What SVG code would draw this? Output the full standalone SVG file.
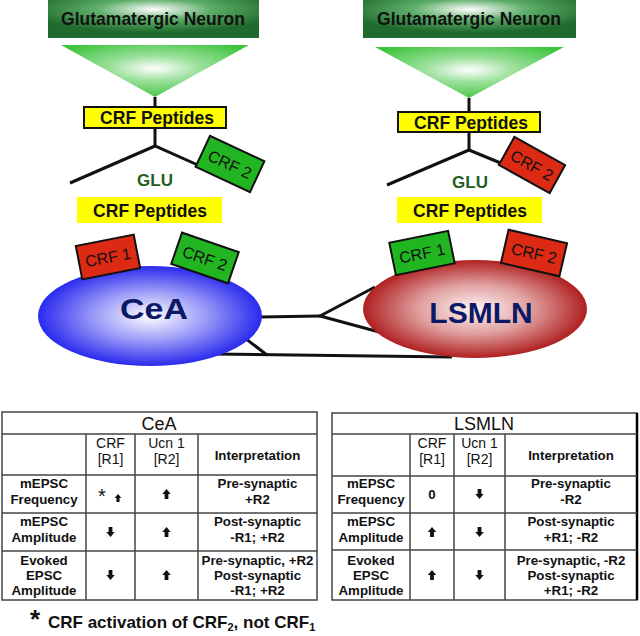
<svg xmlns="http://www.w3.org/2000/svg" width="640" height="636" viewBox="0 0 640 636">
<defs>
<radialGradient id="gHead" cx="0.5" cy="0.25" r="0.6">
<stop offset="0" stop-color="#ffffff"/><stop offset="0.45" stop-color="#5fae6a"/><stop offset="1" stop-color="#1f6b2d"/>
</radialGradient>
<radialGradient id="gTri" cx="0.5" cy="0.45" r="0.6">
<stop offset="0" stop-color="#ffffff"/><stop offset="0.4" stop-color="#9be09b"/><stop offset="1" stop-color="#3cc43c"/>
</radialGradient>
<radialGradient id="gCeA" cx="0.5" cy="0.5" r="0.5">
<stop offset="0" stop-color="#ffffff"/><stop offset="0.5" stop-color="#9a9af8"/><stop offset="1" stop-color="#2a2aee"/>
</radialGradient>
<radialGradient id="gLS" cx="0.5" cy="0.5" r="0.5">
<stop offset="0" stop-color="#fff4f4"/><stop offset="0.5" stop-color="#e0a0a0"/><stop offset="1" stop-color="#b02020"/>
</radialGradient>
<path id="up" d="M0,-5 L4.2,0 L1.9,0 L1.9,5 L-1.9,5 L-1.9,0 L-4.2,0 Z" fill="#111"/>
<path id="dn" d="M0,5 L4.2,0 L1.9,0 L1.9,-5 L-1.9,-5 L-1.9,0 L-4.2,0 Z" fill="#111"/>
</defs>
<style>
.hd{font-family:"Liberation Sans",Arial,sans-serif;font-weight:bold;font-size:17.5px;fill:#111;text-anchor:middle}
.pep{font-family:"Liberation Sans",Arial,sans-serif;font-weight:bold;font-size:17.5px;fill:#111;text-anchor:middle}
.glu{font-family:"Liberation Sans",Arial,sans-serif;font-weight:bold;font-size:17px;fill:#1f5f1f;text-anchor:middle}
.rec{font-family:"Liberation Sans",Arial,sans-serif;font-size:16px;fill:#111;text-anchor:middle}
.big{font-family:"Liberation Sans",Arial,sans-serif;font-weight:bold;font-size:30px;fill:#0c1a66;text-anchor:middle}
.th{font-family:"Liberation Sans",Arial,sans-serif;font-size:18px;fill:#111;text-anchor:middle}
.td{font-family:"Liberation Sans",Arial,sans-serif;font-weight:bold;font-size:13.3px;fill:#111;text-anchor:middle}
.ch{font-family:"Liberation Sans",Arial,sans-serif;font-size:14px;fill:#111;text-anchor:middle}
.fn{font-family:"Liberation Sans",Arial,sans-serif;font-weight:bold;font-size:17px;fill:#111}
.ln{stroke:#111;stroke-width:3;fill:none}
.grid{stroke:#444;stroke-width:1.5;fill:none}
.yb{fill:#ffff00;stroke:#111;stroke-width:2}
.gr{fill:#22b522;stroke:#111;stroke-width:2}
.rd{fill:#dd2a14;stroke:#111;stroke-width:2}
</style>

<g id="connectors">
<line class="ln" x1="155" y1="97" x2="155" y2="107"/>
<polyline class="ln" points="70,183 155,146 200,166"/>
<line class="ln" x1="155" y1="128" x2="155" y2="146"/>
<line class="ln" x1="469" y1="98" x2="469" y2="112"/>
<polyline class="ln" points="387,185 469,150 503,164"/>
<line class="ln" x1="469" y1="132" x2="469" y2="150"/>
<line class="ln" x1="260" y1="317" x2="320" y2="316"/>
<polyline class="ln" points="375,287 320,316 383,333"/>
<line class="ln" x1="213" y1="354" x2="452" y2="357"/>
<line class="ln" x1="241" y1="335" x2="267" y2="355"/>
</g>

<g id="neuronL">
<rect x="48" y="0" width="211" height="38" fill="url(#gHead)"/>
<text class="hd" x="153" y="25">Glutamatergic Neuron</text>
<polygon points="61,45 249,45 155,97" fill="url(#gTri)"/>
</g>
<g id="neuronR">
<rect x="363" y="0" width="213" height="38" fill="url(#gHead)"/>
<text class="hd" x="469" y="25">Glutamatergic Neuron</text>
<polygon points="375,47 564,47 469,98" fill="url(#gTri)"/>
</g>

<g id="pepL1"><rect class="yb" x="84" y="107" width="142" height="21"/><text class="pep" x="157" y="124">CRF Peptides</text></g>
<g id="pepR1"><rect class="yb" x="398" y="112" width="142" height="20"/><text class="pep" x="471" y="129">CRF Peptides</text></g>

<g id="crf2topL" transform="translate(230,164) rotate(25)"><rect class="gr" x="-30" y="-17" width="60" height="34"/><text class="rec" x="0" y="6">CRF 2</text></g>
<g id="crf2topR" transform="translate(532,165) rotate(29)"><rect class="rd" x="-29" y="-16" width="58" height="32"/><text class="rec" x="0" y="6">CRF 2</text></g>

<g id="gluL"><text class="glu" x="155" y="186">GLU</text></g>
<g id="gluR"><text class="glu" x="470" y="188">GLU</text></g>

<g id="pepL2"><rect x="77" y="197" width="145" height="26" fill="#ffff00"/><text class="pep" x="150" y="217">CRF Peptides</text></g>
<g id="pepR2"><rect x="397" y="197" width="145" height="26" fill="#ffff00"/><text class="pep" x="470" y="217">CRF Peptides</text></g>

<g id="CeA">
<ellipse cx="150" cy="316" rx="112" ry="50" fill="url(#gCeA)"/>
<text class="big" x="154" y="319" textLength="68" lengthAdjust="spacingAndGlyphs">CeA</text>
</g>
<g id="LSMLN">
<ellipse cx="475" cy="309" rx="112" ry="49" fill="url(#gLS)"/>
<text class="big" x="481" y="323">LSMLN</text>
</g>

<g id="crf1CeA" transform="translate(108,257) rotate(-11)"><rect class="rd" x="-29.5" y="-17" width="59" height="34"/><text class="rec" x="0" y="6">CRF 1</text></g>
<g id="crf2CeA" transform="translate(205,258) rotate(19)"><rect class="gr" x="-30" y="-16.5" width="60" height="33"/><text class="rec" x="0" y="6">CRF 2</text></g>
<g id="crf1LS" transform="translate(422,253) rotate(-11.5)"><rect class="gr" x="-30" y="-16.5" width="60" height="33"/><text class="rec" x="0" y="6">CRF 1</text></g>
<g id="crf2LS" transform="translate(534,253) rotate(13)"><rect class="rd" x="-30" y="-17" width="60" height="34"/><text class="rec" x="0" y="6">CRF 2</text></g>

<g id="tableCeA">
<rect class="grid" x="2" y="412" width="315" height="188"/>
<line class="grid" x1="2" y1="434" x2="317" y2="434"/>
<line class="grid" x1="2" y1="475" x2="317" y2="475"/>
<line class="grid" x1="2" y1="513" x2="317" y2="513"/>
<line class="grid" x1="2" y1="551" x2="317" y2="551"/>
<line class="grid" x1="86" y1="434" x2="86" y2="600"/>
<line class="grid" x1="135" y1="434" x2="135" y2="600"/>
<line class="grid" x1="198" y1="434" x2="198" y2="600"/>
<text class="th" x="159" y="430">CeA</text>
<text class="ch" x="110.5" y="448">CRF</text><text class="ch" x="110.5" y="464">[R1]</text>
<text class="ch" x="166.5" y="448">Ucn 1</text><text class="ch" x="166.5" y="464">[R2]</text>
<text class="td" x="257.5" y="460">Interpretation</text>
<text class="td" x="44" y="488">mEPSC</text><text class="td" x="44" y="504">Frequency</text>
<text class="td" x="44" y="526">mEPSC</text><text class="td" x="44" y="542">Amplitude</text>
<text class="td" x="44" y="565">Evoked</text><text class="td" x="44" y="580">EPSC</text><text class="td" x="44" y="595">Amplitude</text>
<text class="td" x="257.5" y="488">Pre-synaptic</text><text class="td" x="257.5" y="504">+R2</text>
<text class="td" x="257.5" y="526">Post-synaptic</text><text class="td" x="257.5" y="542">-R1; +R2</text>
<text class="td" x="257.5" y="565">Pre-synaptic, +R2</text><text class="td" x="257.5" y="580">Post-synaptic</text><text class="td" x="257.5" y="595">-R1; +R2</text>
<text x="102" y="503" font-family="Liberation Sans, Arial, sans-serif" font-size="20" fill="#111" text-anchor="middle">*</text>
<use href="#up" transform="translate(118,498) scale(0.8)"/>
<use href="#up" x="166.5" y="494"/>
<use href="#dn" x="110.5" y="532"/>
<use href="#up" x="166.5" y="532"/>
<use href="#dn" x="110.5" y="575"/>
<use href="#up" x="166.5" y="575"/>
</g>

<g id="tableLS">
<rect class="grid" x="332" y="413" width="305" height="187"/>
<line x1="637" y1="413" x2="637" y2="600" stroke="#000" stroke-width="2.5"/>
<line class="grid" x1="332" y1="434" x2="637" y2="434"/>
<line class="grid" x1="332" y1="476" x2="637" y2="476"/>
<line class="grid" x1="332" y1="513" x2="637" y2="513"/>
<line class="grid" x1="332" y1="550" x2="637" y2="550"/>
<line class="grid" x1="410" y1="434" x2="410" y2="600"/>
<line class="grid" x1="454" y1="434" x2="454" y2="600"/>
<line class="grid" x1="505" y1="434" x2="505" y2="600"/>
<text class="th" x="484" y="430">LSMLN</text>
<text class="ch" x="432" y="448">CRF</text><text class="ch" x="432" y="464">[R1]</text>
<text class="ch" x="479.5" y="448">Ucn 1</text><text class="ch" x="479.5" y="464">[R2]</text>
<text class="td" x="571" y="460">Interpretation</text>
<text class="td" x="371" y="488">mEPSC</text><text class="td" x="371" y="504">Frequency</text>
<text class="td" x="371" y="526">mEPSC</text><text class="td" x="371" y="542">Amplitude</text>
<text class="td" x="371" y="565">Evoked</text><text class="td" x="371" y="580">EPSC</text><text class="td" x="371" y="595">Amplitude</text>
<text class="td" x="571" y="488">Pre-synaptic</text><text class="td" x="571" y="504">-R2</text>
<text class="td" x="571" y="526">Post-synaptic</text><text class="td" x="571" y="542">+R1; -R2</text>
<text class="td" x="571" y="565">Pre-synaptic, -R2</text><text class="td" x="571" y="580">Post-synaptic</text><text class="td" x="571" y="595">+R1; -R2</text>
<text class="td" x="432" y="499">0</text>
<use href="#dn" x="479.5" y="494"/>
<use href="#up" x="432" y="532"/>
<use href="#dn" x="479.5" y="532"/>
<use href="#up" x="432" y="575"/>
<use href="#dn" x="479.5" y="575"/>
</g>

<g id="footnote">
<text x="35" y="628" font-family="Liberation Sans, Arial, sans-serif" font-weight="bold" font-size="26" fill="#111" text-anchor="middle">*</text>
<text class="fn" x="48" y="628">CRF activation of CRF<tspan font-size="11" dy="3">2</tspan><tspan dy="-3">, not CRF</tspan><tspan font-size="11" dy="3">1</tspan></text>
</g>
</svg>
